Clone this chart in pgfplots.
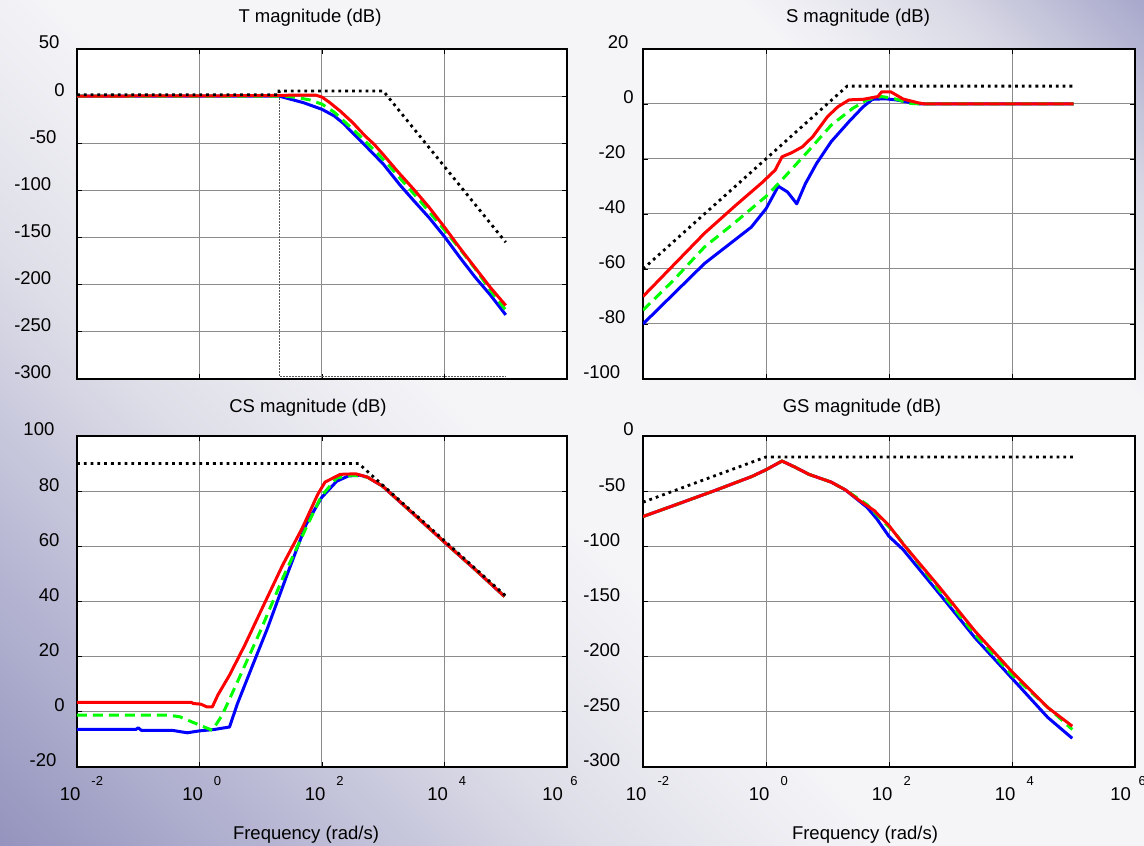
\documentclass[border=0pt]{standalone}
\usepackage{fontspec}
\setmainfont{Liberation Sans}
\usepackage{pgfplots}
\pgfplotsset{compat=1.18}

\definecolor{bgA}{RGB}{148,148,190}
\definecolor{bgB}{RGB}{184,184,212}
\definecolor{bgC}{RGB}{222,222,232}
\definecolor{bgD}{RGB}{245,245,248}
\definecolor{bgE}{RGB}{218,218,230}
\definecolor{bgF}{RGB}{168,168,204}
\pgfdeclareverticalshading{bgshade}{100bp}{color(0bp)=(bgA); color(14.6bp)=(bgA); color(25.2bp)=(bgB); color(35.8bp)=(bgC); color(46.5bp)=(bgD); color(71.2bp)=(bgD); color(78.3bp)=(bgE); color(85.4bp)=(bgF); color(100bp)=(bgF)}

\definecolor{mred}{RGB}{255,0,0}
\definecolor{mgreen}{RGB}{0,255,0}
\definecolor{mblue}{RGB}{0,0,255}

\newcommand\yl[1]{\setbox0=\hbox{#1}\copy0\kern0.5\wd0}
\newcommand\xl[3]{\makebox[0pt][l]{\hspace*{#1}\makebox[0pt][r]{10}\hspace*{#2}\raisebox{15pt}{\fontsize{13}{13}\selectfont #3}}}

\tikzset{
  bl/.style={mblue, line width=3pt, line join=round},
  gr/.style={mgreen, line width=3pt, dash pattern=on 10pt off 6pt},
  rd/.style={mred, line width=3pt, line join=round},
  bk/.style={black, line width=2.8pt, dash pattern=on 2.8pt off 4pt},
}
\pgfplotsset{every axis/.append style={
    scale only axis, 
    grid=major, major grid style={line width=1pt, black!45},
    axis line style={line width=1.3pt}, tick style={black, line width=0.9pt},
    major tick length=5pt,
    tick label style={font=\fontsize{18.5}{22}\selectfont},
    yticklabel style={anchor=base east, inner sep=0pt},
    xticklabel style={anchor=base, inner sep=0pt, yshift=-34pt}}}

\begin{document}
\fontsize{18.5}{22}\selectfont
\begin{tikzpicture}[x=1pt,y=1pt]
\shade[shading=bgshade, shading angle=-45] (0,0) rectangle (1144,846);

% ---------------- T ----------------
\begin{axis}[xmode=log, log basis x=10, at={(77pt,467pt)}, anchor=south west, width=490pt, height=330pt,
  axis background/.style={fill=white},
  xmin=1e-2, xmax=1e6, xtick={1e-2,1,1e2,1e4,1e6}, minor xtick={}, xticklabels={},
  ymin=-300, ymax=50, ytick={-300,-250,-200,-150,-100,-50,0,50},
  yticklabels={\yl{-300},\yl{-250},\yl{-200},\yl{-150},\yl{-100},\yl{-50},\yl{0},\yl{50}},
  yticklabel style={xshift=-7pt}]
\addplot[black!65, line width=1pt, dash pattern=on 2pt off 1pt] coordinates {(0.01,0) (19.95,0) (19.95,-297) (1e5,-297)};
\addplot[bl] coordinates {(0.01,0) (19.95,0) (31.62,-3.5) (50.12,-7) (100,-14) (158.5,-21) (223.9,-29) (316.2,-39) (501.2,-52) (1000,-72) (1862,-94) (3162,-111) (5623,-129) (1e4,-149) (17783,-171) (31623,-192) (56234,-211) (1e5,-232)};
\addplot[gr] coordinates {(0.01,0) (25.12,0) (39.81,-1.5) (63.10,-4) (100,-8.5) (158.5,-17) (251.2,-29) (398.1,-41) (631.0,-54) (1148,-71) (1995,-89) (3981,-111) (1e4,-142) (17783,-162) (31623,-183) (56234,-206) (1e5,-227)};
\addplot[rd] coordinates {(0.01,0) (10,0.5) (31.62,1) (79.43,1) (100,-1) (134.9,-7) (199.5,-16) (316.2,-28) (501.2,-42) (707.9,-51) (1000,-62) (1778,-81) (3162,-99) (5623,-118) (1e4,-139) (17783,-161) (31623,-182) (56234,-203) (1e5,-222)};
\addplot[bk] coordinates {(0.01,1.5) (19.95,1.5) (19.95,5.5) (1000,5.5) (1e5,-155)};
\end{axis}

% ---------------- S ----------------
\begin{axis}[xmode=log, log basis x=10, at={(643pt,467pt)}, anchor=south west, width=492pt, height=330pt,
  axis background/.style={fill=white},
  xmin=1e-2, xmax=1e6, xtick={1e-2,1,1e2,1e4,1e6}, minor xtick={}, xticklabels={},
  ymin=-100, ymax=20, ytick={-100,-80,-60,-40,-20,0,20},
  yticklabels={\yl{-100},\yl{-80},\yl{-60},\yl{-40},\yl{-20},\yl{0},\yl{20}},
  yticklabel style={xshift=-4pt}]
\addplot[bl] coordinates {(0.01,-80) (0.0316,-69) (0.1,-58) (0.5754,-44.8) (1,-38.1) (1.585,-29.9) (2.239,-32) (3.162,-36.3) (4.365,-29) (6.607,-21.7) (11.48,-13.7) (22.39,-6.4) (38.02,-1) (53.70,1.7) (87.10,1.9) (128.8,1.5) (223.9,0.5) (331.1,0) (1e5,0)};
\addplot[gr] coordinates {(0.01,-75) (0.0316,-64) (0.1,-52) (0.3162,-43) (1,-33.6) (1.698,-28.3) (5.012,-16.8) (11.48,-7.7) (25.70,-1.6) (43.65,1.5) (75.86,2.7) (114.8,2.1) (223.9,0.2) (354.8,0) (1e5,0)};
\addplot[rd] coordinates {(0.01,-70) (0.0316,-58.5) (0.1,-47) (0.3162,-37) (0.871,-28.5) (1.413,-24) (1.820,-19.2) (2.570,-17.8) (3.890,-15.6) (5.754,-11.9) (10,-4.6) (14.79,-1) (22.39,1.5) (38.02,1.7) (66.07,2.7) (75.86,4.4) (107.2,4.4) (169.8,1.8) (288.4,0.5) (380.2,0) (1e5,0)};
\addplot[bk] coordinates {(0.01,-60) (20.89,6.5) (1e5,6.5)};
\end{axis}

% ---------------- CS ----------------
\begin{axis}[xmode=log, log basis x=10, at={(77pt,79pt)}, anchor=south west, width=490pt, height=331pt,
  axis background/.style={fill=white},
  xmin=1e-2, xmax=1e6, xtick={1e-2,1,1e2,1e4,1e6}, minor xtick={},
  xticklabels={\xl{3.5pt}{11pt}{-2},\xl{3.5pt}{11pt}{0},\xl{3.5pt}{11pt}{2},\xl{3.5pt}{11pt}{4},\xl{-4pt}{7.5pt}{6}},
  ymin=-20, ymax=100, ytick={-20,0,20,40,60,80,100},
  yticklabels={\yl{-20},\yl{0},\yl{20},\yl{40},\yl{60},\yl{80},\yl{100}},
  yticklabel style={xshift=-7pt}]
\addplot[bl] coordinates {(0.01,-6.4) (0.0912,-6.4) (0.1,-5.8) (0.1122,-6.7) (0.3548,-6.7) (0.631,-7.6) (1,-6.9) (1.738,-6.4) (3.090,-5.5) (4.169,3.0) (7.413,17) (12.88,30.3) (26.92,49.7) (54.95,67.9) (97.72,77.6) (173.8,83.6) (269.2,85.5) (416.9,85.8) (549.5,85.1) (977.2,81.8) (3162,71.6) (1e4,61.5) (31623,51.6) (95499,41.8)};
\addplot[gr] coordinates {(0.01,-1.2) (0.309,-1.2) (0.4786,-1.8) (0.7413,-3.6) (1.622,-6.7) (2.344,-1.2) (4.169,10.9) (9.772,29.1) (22.91,48.5) (54.95,66.7) (97.72,78.2) (173.8,84.8) (309.0,85.8) (549.5,85.1) (977.2,81.8) (3162,71.6) (1e4,61.5) (31623,51.6) (95499,41.8)};
\addplot[rd] coordinates {(0.01,3.4) (0.7413,3.4) (0.7943,3.0) (1.047,2.8) (1.318,1.8) (1.622,1.8) (1.995,6.1) (3.090,13.3) (5.495,24.2) (11.22,38.8) (22.91,53.3) (47.86,66.7) (85.11,78.8) (112.2,83.3) (199.5,86.1) (354.8,86.3) (549.5,85.1) (977.2,81.8) (3162,71.6) (1e4,61.5) (31623,51.6) (95499,41.8)};
\addplot[bk] coordinates {(0.01,90) (398.1,90) (1e5,42)};
\end{axis}

% ---------------- GS ----------------
\begin{axis}[xmode=log, log basis x=10, at={(643pt,79pt)}, anchor=south west, width=492pt, height=331pt,
  axis background/.style={fill=white},
  xmin=1e-2, xmax=1e6, xtick={1e-2,1,1e2,1e4,1e6}, minor xtick={},
  xticklabels={\xl{3.5pt}{11pt}{-2},\xl{3.5pt}{11pt}{0},\xl{3.5pt}{11pt}{2},\xl{3.5pt}{11pt}{4},\xl{-4pt}{7.5pt}{6}},
  ymin=-300, ymax=0, ytick={-300,-250,-200,-150,-100,-50,0},
  yticklabels={\yl{-300},\yl{-250},\yl{-200},\yl{-150},\yl{-100},\yl{-50},\yl{0}},
  yticklabel style={xshift=-4pt}]
\addplot[bl] coordinates {(0.01,-73) (0.0316,-63) (0.1479,-49.4) (0.5888,-36.7) (1,-30.6) (1.820,-22.7) (2.951,-28.2) (5.012,-34.8) (11.48,-41.8) (19.50,-48.8) (43.65,-64.5) (63.10,-75) (100,-91) (169.8,-103) (660.7,-143) (2512,-183) (9772,-219) (38019,-255) (95499,-274)};
\addplot[gr] coordinates {(0.01,-73) (0.0316,-63) (0.1479,-49.4) (0.5888,-36.7) (1,-30.6) (1.820,-22.7) (2.951,-28.2) (5.012,-34.8) (11.48,-41.8) (19.50,-48.8) (43.65,-62) (128.8,-88.8) (660.7,-140) (2512,-180) (9772,-216) (95499,-266)};
\addplot[rd] coordinates {(0.01,-73) (0.0316,-63) (0.1479,-49.4) (0.5888,-36.7) (1,-30.6) (1.820,-22.7) (2.951,-28.2) (5.012,-34.8) (11.48,-41.8) (19.50,-48.8) (33.11,-58.5) (57.54,-67.6) (100,-81.2) (169.8,-97.9) (660.7,-137) (2512,-177) (9772,-213) (38019,-246) (95499,-263)};
\addplot[bk] coordinates {(0.01,-60) (1,-19) (1e5,-19)};
\end{axis}

\node at (310,828) {T magnitude (dB)};
\node at (858,828) {S magnitude (dB)};
\node at (308,438) {CS magnitude (dB)};
\node at (862,438) {GS magnitude (dB)};
\node at (306,11) {Frequency (rad/s)};
\node at (865,11) {Frequency (rad/s)};

\pgfresetboundingbox
\path[use as bounding box] (0,0) rectangle (1144,846);
\end{tikzpicture}
\end{document}
